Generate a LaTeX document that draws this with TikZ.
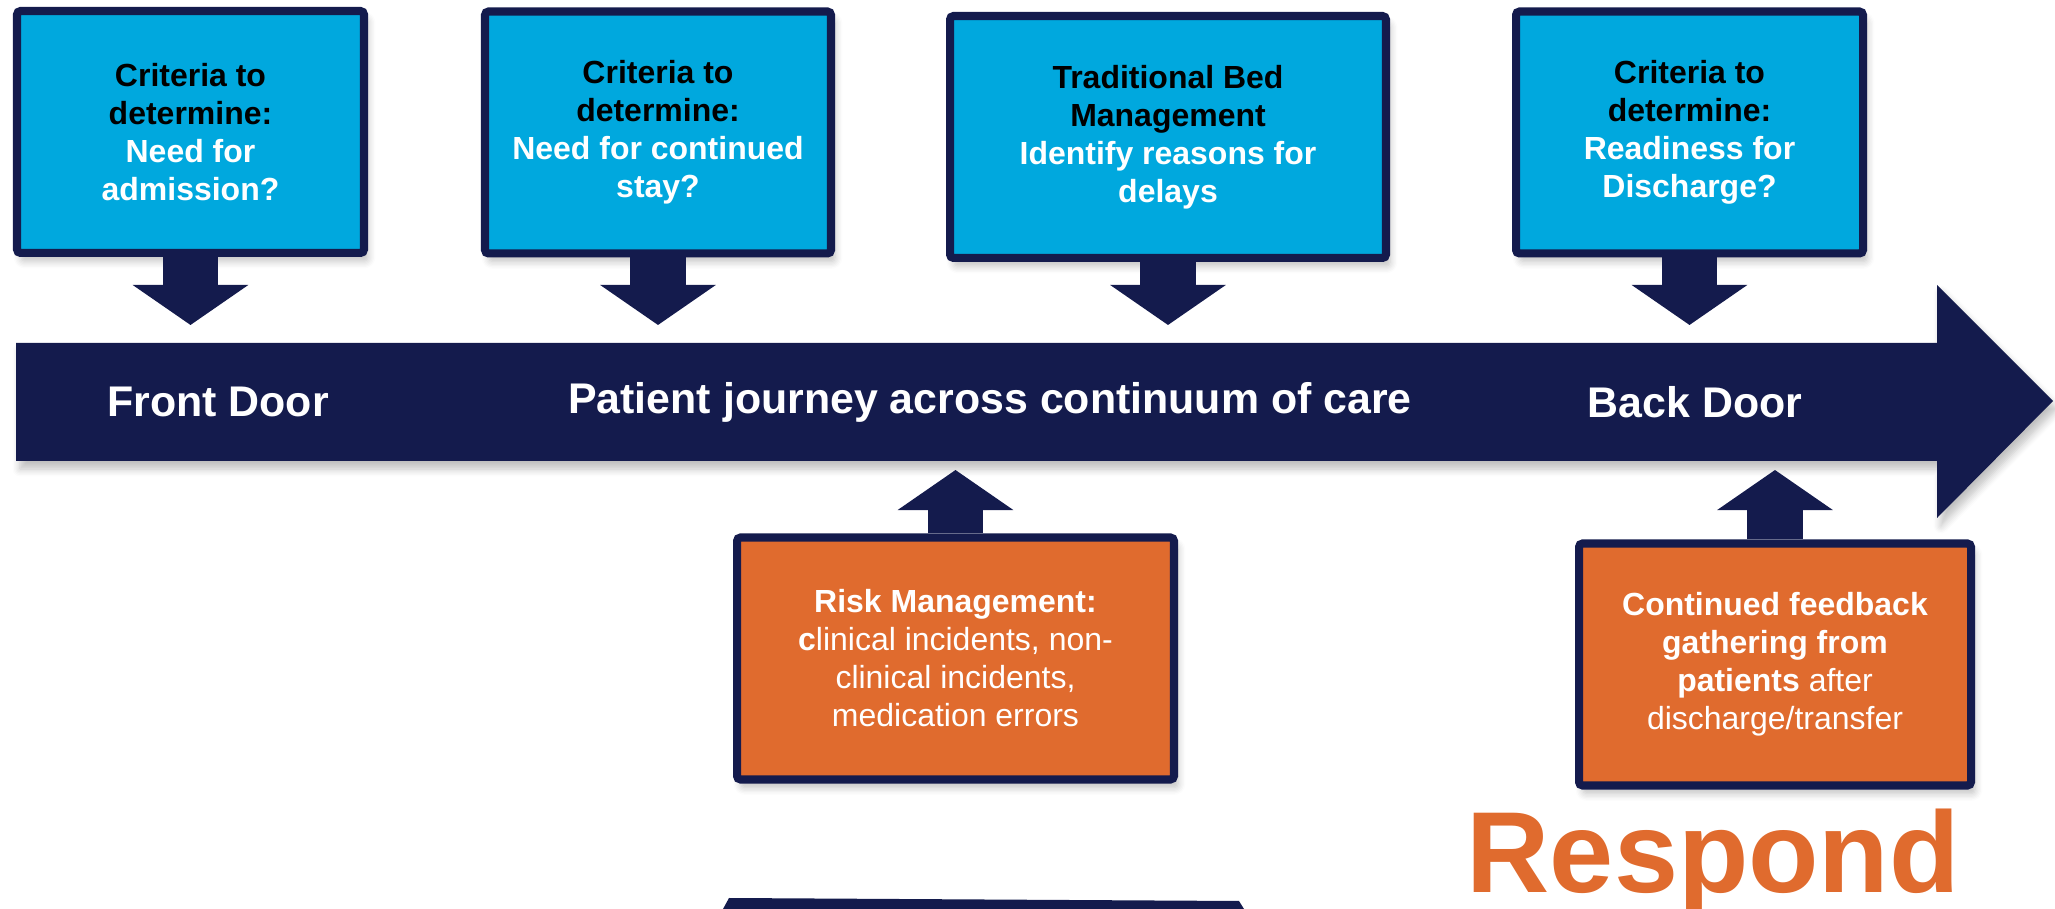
\documentclass[tikz,border=0pt]{standalone}
\usepackage{fontspec}
\setmainfont{Liberation Sans}
\usetikzlibrary{arrows.meta, shadows.blur}

\definecolor{navy}{HTML}{141B4D}
\definecolor{sky}{HTML}{00A8DE}
\definecolor{rust}{HTML}{E06B2E}

\begin{document}
\begin{tikzpicture}[x=0.1mm, y=-0.1mm,
	infobox/.style={draw=navy, line width=2.28pt, fill=sky, rounded corners=1pt,
		minimum height=24.2mm, inner sep=0pt, align=center, text=white,
		font=\fontsize{9.1pt}{10.8pt}\selectfont\bfseries,
		blur shadow={shadow xshift=0.4mm, shadow yshift=-0.8mm, shadow blur steps=6, shadow opacity=25}},
	riskbox/.style={infobox, fill=rust, font=\fontsize{9.1pt}{10.8pt}\selectfont},
	blockarr/.style={navy, line width=15.9pt, -{Triangle[width=32.4pt, length=11.4pt]}},
	tracklabel/.style={text=white, font=\fontsize{12.2pt}{14pt}\selectfont\bfseries}]

		\useasboundingbox (0,0) rectangle (2055,909);

		\coordinate (dn) at (0,325);
		\coordinate (up) at (0,470);

		% the journey arrow
		\coordinate (T1) at (16,343);
		\coordinate (T2) at (1937,343);
		\coordinate (T3) at (1937,285);
		\coordinate (T4) at (2053,401);
		\coordinate (T5) at (1937,518);
		\coordinate (T6) at (1937,461);
		\coordinate (T7) at (16,461);
		\fill[navy, blur shadow={shadow xshift=0.4mm, shadow yshift=-0.8mm, shadow blur steps=6, shadow opacity=25}]
			(T1) -- (T2) -- (T3) -- (T4) -- (T5) -- (T6) -- (T7) -- cycle;

		\node[tracklabel] (front) at (218,402) {Front Door};
		\node[tracklabel] (journey) at (990,402) {Patient journey across continuum of care};
		\node[tracklabel] (back) at (1695,402) {Back Door};

		% boxes above
		\node[infobox, minimum width=34.7mm] (admit) at (190.5,132) {\textcolor{black}{Criteria to}\\ \textcolor{black}{determine:}\\ Need for\\ admission?};
		\node[infobox, minimum width=34.6mm] (stay) at (658,132.5) {\textcolor{black}{Criteria to}\\ \textcolor{black}{determine:}\\ Need for continued\\ stay?};
		\node[infobox, minimum width=43.6mm] (bed) at (1168,137) {\textcolor{black}{Traditional Bed}\\ \textcolor{black}{Management}\\ Identify reasons for\\ delays};
		\node[infobox, minimum width=34.7mm] (ready) at (1689.5,132.5) {\textcolor{black}{Criteria to}\\ \textcolor{black}{determine:}\\ Readiness for\\ Discharge?};

		\draw[blockarr] (admit.south) -- (admit.south |- dn);
		\draw[blockarr] (stay.south) -- (stay.south |- dn);
		\draw[blockarr] (bed.south) -- (bed.south |- dn);
		\draw[blockarr] (ready.south) -- (ready.south |- dn);

		% boxes below
		\node[riskbox, minimum width=43.7mm] (risk) at (955.5,658.5) {\textbf{Risk Management:}\\ \textbf{c}linical incidents, non-\\ clinical incidents,\\ medication errors};
		\node[riskbox, minimum width=39.2mm] (feedback) at (1775,664.5) {\textbf{Continued feedback}\\ \textbf{gathering from}\\ \textbf{patients} after\\ discharge/transfer};

		\draw[blockarr] (risk.north) -- (risk.north |- up);
		\draw[blockarr] (feedback.north) -- (feedback.north |- up);

		\node[anchor=base west, inner sep=0pt, text=rust, font=\fontsize{32.8pt}{36pt}\selectfont\bfseries] (respond) at (1466,893) {Respond};

		\fill[navy] (729,898) -- (1239,901) -- (1244,909) -- (723,909) -- cycle;

	\end{tikzpicture}
\end{document}
